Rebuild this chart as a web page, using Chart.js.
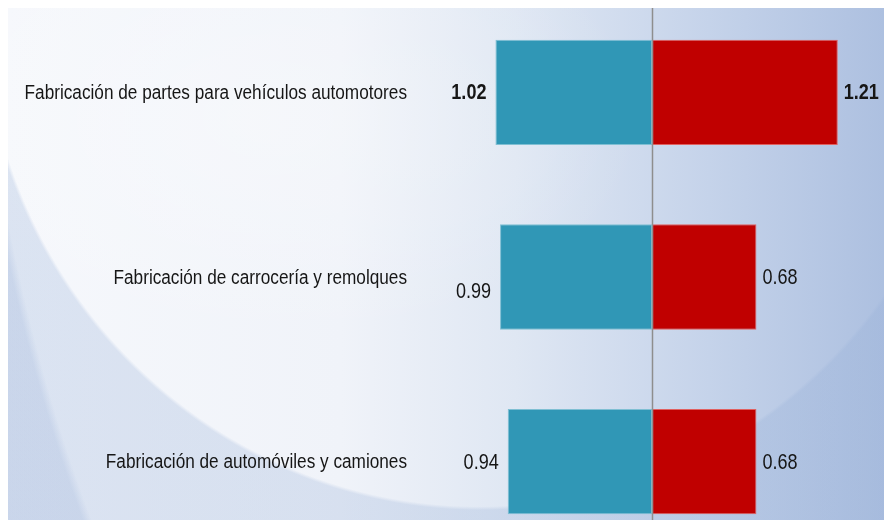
<!DOCTYPE html>
<html>
<head>
<meta charset="utf-8">
<script src="https://cdn.jsdelivr.net/npm/chart.js@4.4.1/dist/chart.umd.min.js"></script>
<style>
  html, body { margin: 0; padding: 0; background: #fff; overflow: hidden; }
  #fondo {
    position: absolute; left: 8px; top: 8px; width: 876px; height: 512px; overflow: hidden;
    background:
      radial-gradient(ellipse 746px 1305px at 700px -200px, rgba(0,0,0,0) 99%, rgba(140,165,210,0.22) 100%),
      radial-gradient(ellipse 500px 510px at 472px -8px, rgba(0,0,0,0) 99.3%, rgba(150,175,215,0.28) 100%),
      radial-gradient(ellipse 380px 230px at 260px 110px, rgba(255,255,255,0.3) 0%, rgba(255,255,255,0) 100%),
      linear-gradient(to right, #f6f8fc 0%, #f0f3f9 38%, #dfe7f3 58%, #c5d3ea 80%, #adc0e0 100%);
  }
  #grafico { position: absolute; left: -8px; top: -8px; }
</style>
</head>
<body>
<div id="fondo"><canvas id="grafico" width="884" height="554"></canvas></div>
<script>
// datos
const categorias = [
  'Fabricación de partes para vehículos automotores',
  'Fabricación de carrocería y remolques',
  'Fabricación de automóviles y camiones'
];
const valoresIzq = [1.02, 0.99, 0.94];
const valoresDer = [1.21, 0.68, 0.68];

const fuente = "'Liberation Sans', Arial, sans-serif";

// texto estrecho (imitando Arial Narrow)
function textoEstrecho(ctx, texto, x, y, align, font, escala) {
  ctx.save();
  ctx.translate(x, y);
  ctx.scale(escala, 1);
  ctx.font = font;
  ctx.textAlign = align;
  ctx.textBaseline = 'middle';
  ctx.fillText(texto, 0, 0);
  ctx.restore();
}

// línea vertical en el cero
const lineaCero = {
  id: 'lineaCero',
  afterDatasetsDraw(chart) {
    const { ctx, chartArea, scales } = chart;
    const x = Math.round(scales.x.getPixelForValue(0)) + 0.5;
    ctx.save();
    ctx.strokeStyle = '#8e8e8e';
    ctx.lineWidth = 1.5;
    ctx.beginPath();
    ctx.moveTo(x, chartArea.top);
    ctx.lineTo(x, chartArea.bottom);
    ctx.stroke();
    ctx.restore();
  }
};

// nombres de categoría y etiquetas de valor
const etiquetas = {
  id: 'etiquetas',
  afterDatasetsDraw(chart) {
    const { ctx, chartArea, scales } = chart;
    ctx.save();
    ctx.fillStyle = '#161616';
    categorias.forEach((c, j) => {
      textoEstrecho(ctx, c, chartArea.left - 8, scales.y.getPixelForValue(j) + 1, 'right', '20px ' + fuente, 0.86);
    });
    chart.data.datasets.forEach((ds, i) => {
      chart.getDatasetMeta(i).data.forEach((bar, j) => {
        const valor = i === 0 ? valoresIzq[j] : valoresDer[j];
        const font = (j === 0 ? 'bold ' : '') + '22px ' + fuente;
        let y = bar.y + 1;
        if (i === 0) {
          if (j === 1) y += 14; // en el original esta etiqueta quedó más abajo
          textoEstrecho(ctx, valor.toFixed(2), bar.x - 9, y, 'right', font, 0.82);
        } else {
          textoEstrecho(ctx, valor.toFixed(2), bar.x + 6, y, 'left', font, 0.82);
        }
      });
    });
    ctx.restore();
  }
};

const ctx = document.getElementById('grafico').getContext('2d');
const grafico = new Chart(ctx, {
  type: 'bar',
  data: {
    labels: categorias,
    datasets: [
      {
        data: valoresIzq.map(v => -v),
        backgroundColor: '#3097b6',
        borderColor: '#7fbfd3',
        borderWidth: 1,
        borderSkipped: false,
        barPercentage: 0.57,
        categoryPercentage: 1
      },
      {
        data: valoresDer,
        backgroundColor: '#c00000',
        borderColor: '#e06060',
        borderWidth: 1,
        borderSkipped: false,
        barPercentage: 0.57,
        categoryPercentage: 1
      }
    ]
  },
  options: {
    responsive: false,
    animation: false,
    indexAxis: 'y',
    layout: { padding: 0 },
    plugins: {
      legend: { display: false },
      tooltip: { enabled: false }
    },
    scales: {
      x: {
        display: false,
        stacked: true,
        min: -1.544,
        max: 1.511
      },
      y: {
        stacked: true,
        grid: { display: false },
        border: { display: false },
        ticks: { display: false },
        afterFit(scale) { scale.width = 415; }
      }
    }
  },
  plugins: [lineaCero, etiquetas]
});
</script>
</body>
</html>
